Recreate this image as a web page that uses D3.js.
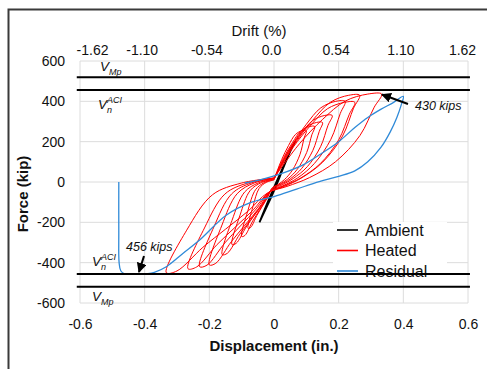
<!DOCTYPE html>
<html>
<head>
<meta charset="UTF-8">
<script src="https://d3js.org/d3.v7.min.js"></script>
<style>
  body { margin: 0; background: #fff; }
  text { font-family: "Liberation Sans", Arial, sans-serif; }
</style>
</head>
<body>
<div class="chart"></div>
<script>
  // axis ticks
  const dispTicks = [-0.6, -0.4, -0.2, 0, 0.2, 0.4, 0.6];
  const dispLabels = ["-0.6", "-0.4", "-0.2", "0", "0.2", "0.4", "0.6"];
  const driftLabels = ["-1.62", "-1.10", "-0.54", "0.0", "0.54", "1.10", "1.62"];
  const forceTicks = [-600, -400, -200, 0, 200, 400, 600];

  // reference strengths (kip)
  const vMp = 520;
  const vnACI = 456;

  // ambient test, [disp (in.), force (kip)]
  const ambient = [[-0.045, -200], [-0.02, -115], [0.005, -25], [0.03, 75], [0.05, 150], [0.065, 200],
    [0.045, 135], [0.02, 45], [-0.005, -45], [-0.03, -140], [-0.045, -200]];

  // heated test cycles
  const heated1 = [[0, 10], [-0.024, -2], [-0.046, -32], [-0.065, -122], [-0.08, -230], [-0.072, -225],
    [-0.053, -166], [-0.036, -120], [-0.019, -74], [-0.005, -28], [0.012, -13], [0.033, 13], [0.057, 59],
    [0.08, 135], [0.093, 217], [0.1, 255], [0.087, 255], [0.066, 235], [0.045, 181], [0.024, 112], [0.009, 51], [0, 10]];
  const heated2 = [[0, 12], [-0.03, -3], [-0.057, -38], [-0.081, -143], [-0.1, -270], [-0.09, -265],
    [-0.066, -194], [-0.045, -140], [-0.024, -86], [-0.006, -32], [0.015, -14], [0.042, 14], [0.072, 63],
    [0.101, 146], [0.117, 234], [0.126, 275], [0.11, 275], [0.083, 253], [0.057, 195], [0.03, 121], [0.011, 55], [0, 12]];
  const heated3 = [[0, 14], [-0.039, -3], [-0.074, -43], [-0.105, -164], [-0.13, -310], [-0.117, -304],
    [-0.086, -223], [-0.059, -161], [-0.031, -99], [-0.008, -37], [0.018, -15], [0.05, 15], [0.086, 68],
    [0.12, 156], [0.14, 251], [0.15, 295], [0.131, 295], [0.099, 271], [0.068, 209], [0.036, 130], [0.014, 59], [0, 14]];
  const heated4 = [[0, 16], [-0.048, -4], [-0.091, -50], [-0.13, -191], [-0.16, -360], [-0.144, -353],
    [-0.106, -259], [-0.072, -187], [-0.038, -115], [-0.01, -43], [0.022, -17], [0.059, 17], [0.103, 76],
    [0.144, 175], [0.167, 281], [0.18, 330], [0.157, 330], [0.119, 304], [0.081, 234], [0.043, 145], [0.016, 66], [0, 16]];
  const heated5 = [[0, 18], [-0.06, -4], [-0.114, -58], [-0.162, -218], [-0.2, -411], [-0.18, -403],
    [-0.132, -296], [-0.09, -214], [-0.048, -132], [-0.012, -49], [0.026, -20], [0.073, 20], [0.125, 92],
    [0.176, 212], [0.205, 340], [0.22, 400], [0.191, 400], [0.145, 368], [0.099, 284], [0.053, 176], [0.02, 80], [0, 18]];
  const heated6 = [[0, 19], [-0.069, -4], [-0.131, -59], [-0.186, -223], [-0.23, -420], [-0.207, -412],
    [-0.152, -302], [-0.104, -218], [-0.055, -134], [-0.014, -50], [0.03, -20], [0.083, 20], [0.143, 91],
    [0.2, 209], [0.233, 336], [0.25, 395], [0.218, 395], [0.165, 363], [0.113, 280], [0.06, 174], [0.023, 79], [0, 19]];
  const heated7 = [[0, 19], [-0.08, -4], [-0.152, -60], [-0.215, -228], [-0.266, -430], [-0.239, -421],
    [-0.176, -310], [-0.12, -224], [-0.064, -138], [-0.016, -52], [0.032, -22], [0.087, 22], [0.151, 99],
    [0.212, 228], [0.246, 366], [0.265, 430], [0.231, 430], [0.175, 396], [0.119, 305], [0.064, 189], [0.024, 86], [0, 19]];
  const heated8 = [[0, 20], [-0.1, -5], [-0.19, -63], [-0.27, -239], [-0.333, -450], [-0.3, -441],
    [-0.22, -324], [-0.15, -234], [-0.08, -144], [-0.02, -54], [0.04, -22], [0.11, 22], [0.19, 100],
    [0.266, 231], [0.31, 371], [0.333, 436], [0.29, 436], [0.22, 401], [0.15, 310], [0.08, 192], [0.03, 87], [0, 20]];
  const heatedCycles = [heated1, heated2, heated3, heated4, heated5, heated6, heated7, heated8];

  // residual test
  const residual = [[-0.48, 0], [-0.48, -250], [-0.479, -400], [-0.474, -440], [-0.462, -455], [-0.43, -456],
    [-0.39, -455], [-0.37, -448], [-0.333, -420], [-0.28, -352], [-0.23, -288], [-0.147, -164], [-0.075, -104],
    [0, -72], [0.07, -35], [0.14, 2], [0.2, 28], [0.25, 55], [0.29, 100], [0.33, 170], [0.36, 250],
    [0.38, 320], [0.393, 380], [0.4, 425], [0.37, 395], [0.33, 360], [0.29, 320], [0.25, 270],
    [0.2, 200], [0.15, 145], [0.09, 85], [0.02, 40], [-0.04, 12], [-0.09, -5]];

  const W = 487, H = 369;
  const svg = d3.select('.chart').append('svg').attr('width', W).attr('height', H);

  // outer frame
  svg.append('path').attr('d', `M8.5 ${H} V9.5 H${W}`).attr('fill', 'none')
    .attr('stroke', '#3a3a3a').attr('stroke-width', 2);

  const x = d3.scaleLinear().domain([-0.6, 0.6]).range([80, 468]);
  const y = d3.scaleLinear().domain([-600, 600]).range([303, 61]);

  // grid
  const grid = svg.append('g');
  grid.selectAll('.vg').data(dispTicks).enter().append('line')
    .attr('x1', d => x(d)).attr('x2', d => x(d)).attr('y1', y(600)).attr('y2', y(-600))
    .attr('stroke', '#dcdcdc').attr('stroke-width', 1);
  grid.selectAll('.hg').data(forceTicks).enter().append('line')
    .attr('x1', x(-0.6)).attr('x2', x(0.6)).attr('y1', d => y(d)).attr('y2', d => y(d))
    .attr('stroke', '#dcdcdc').attr('stroke-width', 1);

  // axes
  const yAxis = svg.append('g').attr('transform', `translate(${x(-0.6)},0)`)
    .call(d3.axisLeft(y).tickValues(forceTicks).tickSize(0).tickPadding(15).tickFormat(d => String(d)));
  const xAxis = svg.append('g').attr('transform', `translate(0,${y(-600)})`)
    .call(d3.axisBottom(x).tickValues(dispTicks).tickSize(0).tickPadding(16).tickFormat((d, i) => dispLabels[i]));
  const topAxis = svg.append('g').attr('transform', `translate(0,${y(600)})`)
    .call(d3.axisTop(x).tickValues(dispTicks).tickSize(0).tickPadding(6).tickFormat((d, i) => driftLabels[i]));
  [yAxis, xAxis, topAxis].forEach(a => {
    a.select('.domain').remove();
    a.selectAll('text').attr('font-size', 14).attr('fill', '#111').style('font-family', '"Liberation Sans", Arial, sans-serif');
  });
  topAxis.selectAll('.tick text').attr('dx', (d, i) => i === 0 ? 12 : (i === dispTicks.length - 1 ? -6 : -3));

  // curves
  const line = d3.line().x(d => x(d[0])).y(d => y(d[1])).curve(d3.curveCatmullRom.alpha(0.5));
  svg.append('path').datum(ambient).attr('d', line).attr('fill', 'none').attr('stroke', '#000').attr('stroke-width', 1.8);
  svg.selectAll('.heated').data(heatedCycles).enter().append('path').attr('class', 'heated')
    .attr('d', line).attr('fill', 'none').attr('stroke', '#ff0000').attr('stroke-width', 1);
  svg.append('path').datum(residual).attr('d', line).attr('fill', 'none').attr('stroke', '#2f8ad8').attr('stroke-width', 1.3);

  // legend
  const legendItems = ['Ambient', 'Heated', 'Residual'];
  const legendColors = ['#000', '#ff0000', '#2f8ad8'];
  svg.append('rect').attr('x', 333).attr('y', 222).attr('width', 114).attr('height', 50).attr('fill', '#fff');
  const lg = svg.selectAll('.lg').data(legendItems).enter().append('g')
    .attr('transform', (d, i) => `translate(337,${230 + i * 20.5})`);
  lg.append('line').attr('x1', 0).attr('x2', 21).attr('stroke', (d, i) => legendColors[i]).attr('stroke-width', 1.6);
  lg.append('text').attr('x', 28).attr('dy', '0.35em').attr('font-size', 16).attr('fill', '#111').text(d => d);

  // strength lines
  [vMp, vnACI, -vnACI, -vMp].forEach(v => {
    svg.append('line').attr('x1', x(-0.61)).attr('x2', x(0.606)).attr('y1', y(v)).attr('y2', y(v))
      .attr('stroke', '#000').attr('stroke-width', 2);
  });

  // V labels
  function vLabel(px, py, sub, sup) {
    const t = svg.append('text').attr('x', px).attr('y', py).attr('font-size', 13.5).attr('font-style', 'italic').attr('fill', '#111');
    t.append('tspan').text('V');
    t.append('tspan').attr('font-size', 9).attr('dy', 4).text(sub);
    if (sup) t.append('tspan').attr('font-size', 9).attr('dx', -5).attr('dy', -10).text(sup);
  }
  vLabel(100, 71, 'Mp');
  vLabel(98, 109, 'n', 'ACI');
  vLabel(92, 266, 'n', 'ACI');
  vLabel(92, 301, 'Mp');

  // peak annotations
  svg.append('defs').append('marker').attr('id', 'ah').attr('viewBox', '0 0 10 10').attr('refX', 9).attr('refY', 5)
    .attr('markerWidth', 5).attr('markerHeight', 5).attr('orient', 'auto')
    .append('path').attr('d', 'M0 0 L10 5 L0 10 z').attr('fill', '#000');
  svg.append('line').attr('x1', 408).attr('y1', 104).attr('x2', 382).attr('y2', 94.5)
    .attr('stroke', '#000').attr('stroke-width', 2).attr('marker-end', 'url(#ah)');
  svg.append('text').attr('x', 415).attr('y', 110).attr('font-size', 12.5).attr('font-style', 'italic').attr('fill', '#111').text('430 kips');
  svg.append('line').attr('x1', 144).attr('y1', 256).attr('x2', 139).attr('y2', 272)
    .attr('stroke', '#000').attr('stroke-width', 2).attr('marker-end', 'url(#ah)');
  svg.append('text').attr('x', 126).attr('y', 251).attr('font-size', 12.5).attr('font-style', 'italic').attr('fill', '#111').text('456 kips');

  // titles
  svg.append('text').attr('x', 259).attr('y', 36).attr('text-anchor', 'middle').attr('font-size', 15).attr('fill', '#111').text('Drift (%)');
  svg.append('text').attr('x', 274).attr('y', 351).attr('text-anchor', 'middle').attr('font-size', 15).attr('font-weight', 'bold').attr('fill', '#111').text('Displacement (in.)');
  svg.append('text').attr('transform', 'translate(28,194) rotate(-90)').attr('text-anchor', 'middle').attr('font-size', 15).attr('font-weight', 'bold').attr('fill', '#111').text('Force (kip)');
</script>
</body>
</html>
